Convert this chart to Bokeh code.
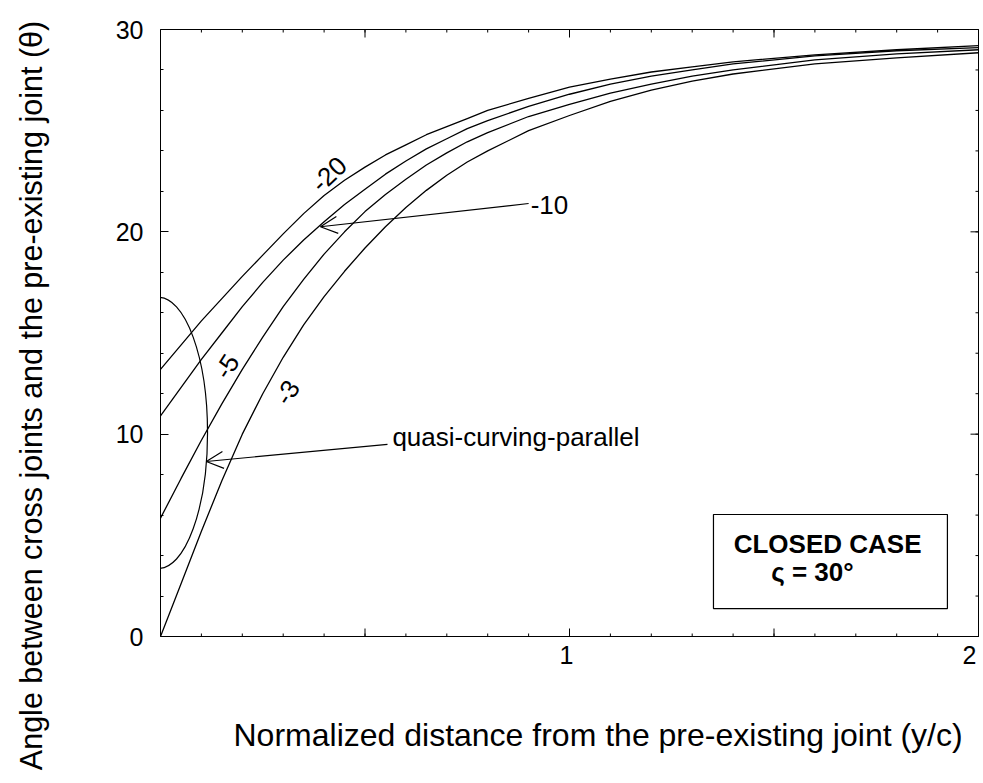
import math
from bokeh.plotting import figure
from bokeh.models import Range1d, FixedTicker, Arrow, OpenHead, BoxAnnotation, Label
from bokeh.core.properties import value
from bokeh.embed import file_html
from bokeh.resources import INLINE

# ---- data ----
distance = [0.0, 0.05, 0.1, 0.15, 0.2, 0.25, 0.3, 0.35, 0.4, 0.45, 0.5, 0.55, 0.6, 0.65, 0.7, 0.75,
            0.8, 0.9, 1.0, 1.1, 1.2, 1.3, 1.4, 1.6, 1.8, 2.0]
theta_m20 = [13.2, 14.4, 15.6, 16.7, 17.8, 18.85, 19.9, 20.9, 21.8, 22.55, 23.2, 23.8, 24.3, 24.8, 25.2, 25.6,
             26.0, 26.6, 27.15, 27.55, 27.9, 28.15, 28.4, 28.75, 29.0, 29.2]
theta_m10 = [10.9, 12.3, 13.7, 15.0, 16.3, 17.5, 18.6, 19.6, 20.5, 21.35, 22.1, 22.85, 23.5, 24.1, 24.6, 25.1,
             25.5, 26.2, 26.8, 27.3, 27.7, 28.0, 28.3, 28.7, 28.95, 29.1]
theta_m5 = [5.85, 7.8, 9.7, 11.5, 13.2, 14.8, 16.3, 17.65, 18.9, 20.0, 21.0, 21.85, 22.6, 23.3, 23.9, 24.45,
            24.9, 25.7, 26.3, 26.85, 27.3, 27.7, 28.0, 28.5, 28.8, 29.0]
theta_m3 = [0.0, 2.6, 5.2, 7.7, 10.0, 12.0, 13.8, 15.4, 16.8, 18.05, 19.2, 20.25, 21.2, 22.05, 22.8, 23.45,
            24.0, 25.0, 25.75, 26.45, 27.0, 27.45, 27.8, 28.3, 28.6, 28.85]

x_tick_labels = ["1", "2"]
x_label_ticks = [1, 2]
x_major_ticks = [0, 0.5, 1, 1.5, 2]
x_minor_ticks = [i / 10 for i in range(21)]
y_major_ticks = [0, 10, 20, 30]
y_minor_ticks = list(range(2, 30, 2))

ellipse_x = [-0.005]
ellipse_y = [10.06]
ellipse_w = [0.24]
ellipse_h = [13.4]

FONT = "Liberation Sans"
X0, X1, Y0, Y1 = 0, 2, 0, 30
PPX = 409.0          # px per x unit
PPY = 607.0 / 30.0   # px per y unit

W, H = 980, 780
LEFT, TOP, BOTTOM = 160, 25, 15
x_end = (W - LEFT) / PPX
y_end = Y1 + (29 - TOP) / PPY
y_start = y_end - (H - TOP - BOTTOM) / PPY

p = figure(width=W, height=H, x_range=Range1d(X0, x_end), y_range=Range1d(y_start, y_end),
           output_backend="svg", toolbar_location=None,
           min_border_left=LEFT, min_border_right=0, min_border_top=TOP, min_border_bottom=BOTTOM)
p.xgrid.visible = False
p.ygrid.visible = False
p.xaxis.visible = False
p.outline_line_color = None
p.background_fill_color = "white"
p.border_fill_color = "white"

# plot box
p.add_layout(BoxAnnotation(left=X0, right=X1, bottom=Y0, top=Y1, fill_color=None, fill_alpha=0,
                           line_color="black", line_width=1, line_alpha=1.0))

# left (real) axis
ya = p.yaxis[0]
ya.bounds = (Y0, Y1)
ya.ticker = FixedTicker(ticks=y_major_ticks, minor_ticks=y_minor_ticks)
ya.major_tick_in = 8
ya.major_tick_out = 0
ya.minor_tick_in = 3
ya.minor_tick_out = 0
ya.axis_line_color = "black"
ya.major_tick_line_color = "black"
ya.minor_tick_line_color = "black"
ya.major_label_text_font = FONT
ya.major_label_text_font_size = "25px"
ya.major_label_text_color = "black"
ya.major_label_standoff = 17
ya.axis_label = "Angle between cross joints and the pre-existing joint (\u03b8)"
ya.axis_label_text_font = FONT
ya.axis_label_text_font_style = "normal"
ya.axis_label_text_font_size = "30.5px"
ya.axis_label_text_color = "black"
ya.axis_label_standoff = 65

# tick marks of the bottom, top and right sides
tick_kw = dict(line_color="black", line_width=1, length_units="screen")
p.ray(x=x_major_ticks, y=[Y0] * len(x_major_ticks), length=8, angle=math.pi / 2, **tick_kw)
p.ray(x=x_minor_ticks, y=[Y0] * len(x_minor_ticks), length=3, angle=math.pi / 2, **tick_kw)
p.ray(x=x_major_ticks, y=[Y1] * len(x_major_ticks), length=8, angle=-math.pi / 2, **tick_kw)
p.ray(x=x_minor_ticks, y=[Y1] * len(x_minor_ticks), length=3, angle=-math.pi / 2, **tick_kw)
p.ray(x=[X1] * len(y_major_ticks), y=y_major_ticks, length=8, angle=math.pi, **tick_kw)
p.ray(x=[X1] * len(y_minor_ticks), y=y_minor_ticks, length=3, angle=math.pi, **tick_kw)

# bottom tick labels
lbl_kw = dict(text_baseline="top", text_font=value(FONT), text_font_size=value("25px"),
              text_color="black", y_offset=9)
p.text(x=x_label_ticks[:1], y=[Y0], text=x_tick_labels[:1], text_align="center", x_offset=-3, **lbl_kw)
p.text(x=x_label_ticks[1:], y=[Y0], text=x_tick_labels[1:], text_align="right", x_offset=-2, **lbl_kw)

# x axis title
p.add_layout(Label(x=(233 - LEFT) / PPX, y=-(734 - 636) / PPY,
                   text="Normalized distance from the pre-existing joint (y/c)",
                   text_align="left", text_baseline="middle",
                   text_font=FONT, text_font_size="32px", text_color="black"))

for series in (theta_m20, theta_m10, theta_m5, theta_m3):
    p.line(distance, series, line_color="black", line_width=1.3)

p.ellipse(x=ellipse_x, y=ellipse_y, width=ellipse_w, height=ellipse_h,
          fill_color=None, line_color="black", line_width=1.2)

# curve labels
for txt, lx, ly, ang in (("-20", 0.412, 22.85, 0.76), ("-5", 0.162, 13.35, 1.0), ("-3", 0.31, 12.06, 1.0)):
    p.add_layout(Label(x=lx, y=ly, text=txt, angle=ang, angle_units="rad",
                       text_align="center", text_baseline="middle",
                       text_font=FONT, text_font_size="26px", text_color="black"))

p.add_layout(Label(x=0.905, y=21.35, text="-10", text_align="left", text_baseline="middle",
                   text_font=FONT, text_font_size="26px", text_color="black"))
p.add_layout(Arrow(end=OpenHead(size=17, line_width=1.2, line_color="black"),
                   x_start=0.90, y_start=21.4, x_end=0.391, y_end=20.25,
                   line_width=1.2, line_color="black"))

p.add_layout(Label(x=0.567, y=9.84, text="quasi-curving-parallel", text_align="left",
                   text_baseline="middle", text_font=FONT, text_font_size="26px",
                   text_color="black"))
p.add_layout(Arrow(end=OpenHead(size=17, line_width=1.2, line_color="black"),
                   x_start=0.555, y_start=9.5, x_end=0.112, y_end=8.65,
                   line_width=1.2, line_color="black"))

p.add_layout(BoxAnnotation(left=1.352, right=1.924, bottom=1.38, top=6.03,
                           fill_color="white", fill_alpha=1.0,
                           line_color="black", line_width=1.2, line_alpha=1.0))
p.add_layout(Label(x=1.631, y=4.55, text="CLOSED CASE", text_align="center",
                   text_baseline="middle", text_font=FONT, text_font_size="26px",
                   text_font_style="bold", text_color="black"))
p.add_layout(Label(x=1.594, y=3.2, text="\u03c2 = 30\u00b0", text_align="center",
                   text_baseline="middle", text_font=FONT, text_font_size="26px",
                   text_font_style="bold", text_color="black"))

open("out.html", "w").write(file_html(p, INLINE))
